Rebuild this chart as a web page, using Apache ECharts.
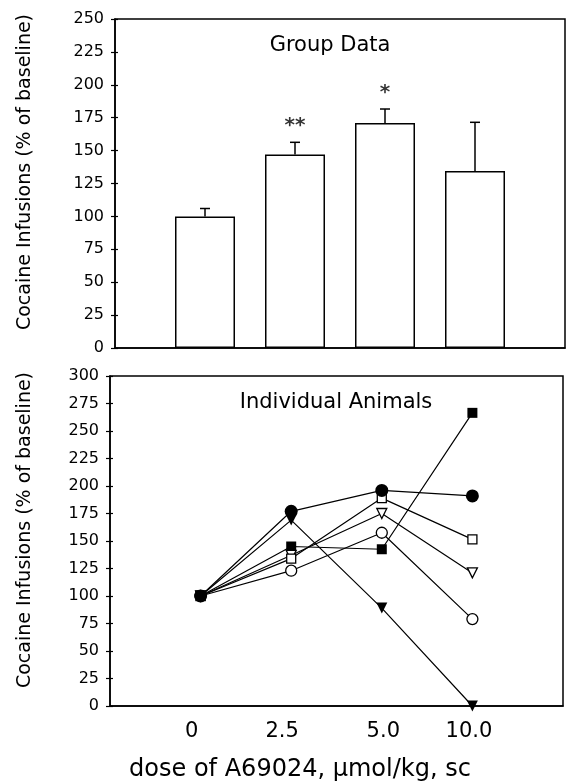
<!DOCTYPE html>
<html><head><meta charset="utf-8">
<script src="https://cdn.jsdelivr.net/npm/echarts/dist/echarts.min.js"></script>
<style>html,body{margin:0;padding:0;background:#fff}#c{width:566px;height:782px}</style>
</head><body><div id="c"></div>
<script>
// ---- data ----
const doseLabels = ['0', '2.5', '5.0', '10.0'];
const groupMean = [100, 147, 171, 134.5];
const groupSEM = [6, 9.3, 10.6, 37];
const groupSig = ['', '**', '*', ''];
const sigY = [0, 171, 196, 0];
// individual animals (% of baseline) at doses 0, 2.5, 5.0, 10.0
const animalFilledCircle = [100, 177, 196, 191];
const animalFilledTriangle = [100, 169, 89, 0];
const animalFilledSquare = [100, 145, 142.5, 266.5];
const animalOpenSquare = [100, 134, 189, 151.5];
const animalOpenTriangle = [100, 137, 175, 121];
const animalOpenCircle = [100, 123, 157.5, 79];
const topTitle = 'Group Data';
const bottomTitle = 'Individual Animals';
const yName = 'Cocaine Infusions (% of baseline)';
const xName = 'dose of A69024, \u03bcmol/kg, sc';

const FONT = 'DejaVu Sans';
const chart = echarts.init(document.getElementById('c'), null, {renderer: 'canvas'});

function pts(arr) { return arr.map((v, i) => [i, v]); }

function animal(data, symbol, filled, size, rotate) {
  return {
    type: 'line', xAxisIndex: 1, yAxisIndex: 2,
    data: pts(data),
    symbol: symbol, symbolSize: size, symbolRotate: rotate || 0,
    showAllSymbol: true,
    lineStyle: {color: '#000', width: 1.2},
    itemStyle: {color: filled ? '#000' : '#fff', borderColor: '#000', borderWidth: filled ? 0 : 1.3, opacity: 1},
    emphasis: {disabled: true},
    z: 3
  };
}

const yAxisCommon = {
  type: 'value', position: 'left', splitLine: {show: false},
  axisLine: {show: true, onZero: false, lineStyle: {color: '#000', width: 1.5}},
  axisTick: {show: true, length: 4, lineStyle: {color: '#000', width: 1.2}},
  axisLabel: {color: '#000', fontFamily: FONT, fontSize: 16, margin: 11}
};
// second axis moved onto the left edge to draw the inward half of the cross ticks
const yAxisInner = {
  type: 'value', position: 'right', splitLine: {show: false},
  axisLine: {show: false, onZero: false},
  axisTick: {show: true, inside: false, length: 3, lineStyle: {color: '#000', width: 1.2}},
  axisLabel: {show: false}
};

const labelShift = {
  l0: {padding: [0, 18, 0, 0]},
  l1: {padding: [0, 18, 0, 0]},
  l2: {padding: [0, 0, 0, 3]},
  l3: {padding: [0, 7, 0, 0]}
};
Object.keys(labelShift).forEach(k => Object.assign(labelShift[k], {fontFamily: FONT, fontSize: 21, color: '#000'}));

const option = {
  animation: false,
  backgroundColor: '#fff',
  grid: [
    {left: 115, top: 19, width: 450, height: 329, show: true, borderColor: '#000', borderWidth: 1.5, outerBoundsMode: 'none'},
    {left: 110, top: 376, width: 453, height: 330, show: true, borderColor: '#000', borderWidth: 1.5, outerBoundsMode: 'none'}
  ],
  xAxis: [
    {type: 'value', gridIndex: 0, min: -1, max: 4, interval: 1, splitLine: {show: false},
      axisLine: {show: true, onZero: false, lineStyle: {color: '#000', width: 1.5}},
      axisTick: {show: false}, axisLabel: {show: false}},
    {type: 'value', gridIndex: 1, min: -1, max: 4, interval: 1, splitLine: {show: false},
      axisLine: {show: true, onZero: false, lineStyle: {color: '#000', width: 1.5}},
      axisTick: {show: false},
      axisLabel: {color: '#000', fontFamily: FONT, fontSize: 21, margin: 15, rich: labelShift,
        formatter: v => (v >= 0 && v < doseLabels.length) ? '{l' + v + '|' + doseLabels[v] + '}' : ''}}
  ],
  yAxis: [
    Object.assign({}, yAxisCommon, {gridIndex: 0, min: 0, max: 250, interval: 25}),
    Object.assign({}, yAxisInner, {gridIndex: 0, min: 0, max: 250, interval: 25, offset: -450}),
    Object.assign({}, yAxisCommon, {gridIndex: 1, min: 0, max: 300, interval: 25}),
    Object.assign({}, yAxisInner, {gridIndex: 1, min: 0, max: 300, interval: 25, offset: -453})
  ],
  graphic: [
    {type: 'text', x: 330, y: 46, style: {text: topTitle, font: '21px "' + FONT + '"', fill: '#000', align: 'center', verticalAlign: 'middle'}},
    {type: 'text', x: 336, y: 403, style: {text: bottomTitle, font: '21px "' + FONT + '"', fill: '#000', align: 'center', verticalAlign: 'middle'}},
    {type: 'text', x: 25, y: 172, rotation: Math.PI / 2, style: {text: yName, font: '19px "' + FONT + '"', fill: '#000', align: 'center', verticalAlign: 'middle'}},
    {type: 'text', x: 25, y: 530, rotation: Math.PI / 2, style: {text: yName, font: '19px "' + FONT + '"', fill: '#000', align: 'center', verticalAlign: 'middle'}},
    {type: 'text', x: 300, y: 770, style: {text: xName, font: '24px "' + FONT + '"', fill: '#000', align: 'center', verticalAlign: 'middle'}}
  ],
  series: [
    {type: 'bar', xAxisIndex: 0, yAxisIndex: 0, data: pts(groupMean), barWidth: 60,
      itemStyle: {color: '#fff', borderColor: '#000', borderWidth: 1.5}, emphasis: {disabled: true}, z: 3},
    {type: 'custom', xAxisIndex: 0, yAxisIndex: 0,
      data: groupMean.map((m, i) => [i, m, groupSEM[i]]),
      encode: {x: 0, y: 1},
      renderItem: function (params, api) {
        const x = api.value(0), m = api.value(1), e = api.value(2);
        const p0 = api.coord([x, m]);
        const p1 = api.coord([x, m + e]);
        const st = {stroke: '#000', lineWidth: 1.5};
        return {type: 'group', children: [
          {type: 'line', shape: {x1: p0[0], y1: p0[1], x2: p1[0], y2: p1[1]}, style: st},
          {type: 'line', shape: {x1: p1[0] - 5, y1: p1[1], x2: p1[0] + 5, y2: p1[1]}, style: st}
        ]};
      }, z: 4},
    {type: 'scatter', xAxisIndex: 0, yAxisIndex: 0, symbolSize: 0,
      data: groupSig.map((s, i) => ({value: [i, sigY[i]], label: {show: s !== '', formatter: s}})),
      label: {position: 'inside', color: '#000', fontFamily: FONT, fontSize: 20, fontWeight: 'bold', offset: [0, 3]},
      emphasis: {disabled: true}, z: 5},
    animal(animalFilledSquare, 'rect', true, 10),
    animal(animalFilledTriangle, 'triangle', true, 11, 180),
    animal(animalOpenCircle, 'circle', false, 11),
    animal(animalOpenTriangle, 'triangle', false, 10, 180),
    animal(animalOpenSquare, 'rect', false, 9),
    animal(animalFilledCircle, 'circle', true, 13)
  ]
};
chart.setOption(option);
</script>
</body></html>
